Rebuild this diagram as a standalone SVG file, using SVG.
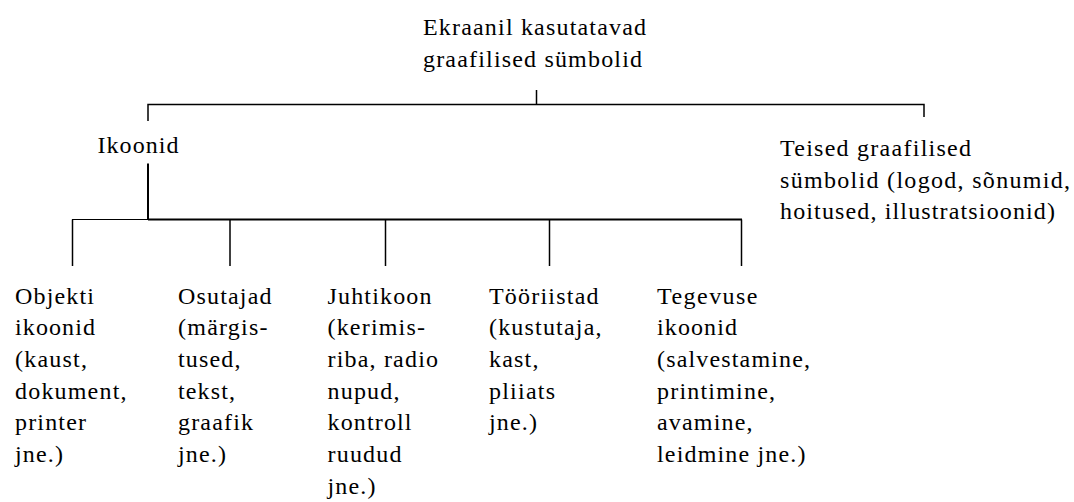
<svg xmlns="http://www.w3.org/2000/svg" width="1074" height="502" viewBox="0 0 1074 502">
<g id="connectors" stroke="#000" stroke-width="1.5" fill="none">
<line x1="536.5" y1="90" x2="536.5" y2="104.5"/>
<polyline points="148,121 148,104.5 924,104.5 924,117"/>
<line x1="148" y1="163.5" x2="148" y2="219.5" stroke-width="2"/>
<line x1="72" y1="219.5" x2="148" y2="219.5" stroke-width="1"/>
<line x1="148" y1="219.5" x2="742" y2="219.5" stroke-width="2"/>
<line x1="72.5" y1="219.5" x2="72.5" y2="266"/>
<line x1="230" y1="219.5" x2="230" y2="266"/>
<line x1="385.5" y1="219.5" x2="385.5" y2="266"/>
<line x1="549.5" y1="219.5" x2="549.5" y2="266"/>
<line x1="741.5" y1="219.5" x2="741.5" y2="266"/>
</g>
<g id="root">
<text x="423" y="34.5" font-family="Liberation Serif" font-size="24" textLength="223" lengthAdjust="spacing">Ekraanil kasutatavad</text>
<text x="423" y="66.5" font-family="Liberation Serif" font-size="24" textLength="219" lengthAdjust="spacing">graafilised sümbolid</text>
</g>
<g id="ikoonid">
<text x="97.5" y="153" font-family="Liberation Serif" font-size="24" textLength="81" lengthAdjust="spacing">Ikoonid</text>
</g>
<g id="teised">
<text x="780" y="156" font-family="Liberation Serif" font-size="24" textLength="191" lengthAdjust="spacing">Teised graafilised</text>
<text x="780" y="187.5" font-family="Liberation Serif" font-size="24" textLength="290" lengthAdjust="spacing">sümbolid (logod, sõnumid,</text>
<text x="780" y="219" font-family="Liberation Serif" font-size="24" textLength="275" lengthAdjust="spacing">hoitused, illustratsioonid)</text>
</g>
<g id="objekti">
<text x="15" y="303.5" font-family="Liberation Serif" font-size="24" textLength="79" lengthAdjust="spacing">Objekti</text>
<text x="15" y="335.2" font-family="Liberation Serif" font-size="24" textLength="80" lengthAdjust="spacing">ikoonid</text>
<text x="15" y="366.9" font-family="Liberation Serif" font-size="24" textLength="72" lengthAdjust="spacing">(kaust,</text>
<text x="15" y="398.6" font-family="Liberation Serif" font-size="24" textLength="111.5" lengthAdjust="spacing">dokument,</text>
<text x="15" y="430.3" font-family="Liberation Serif" font-size="24" textLength="71" lengthAdjust="spacing">printer</text>
<text x="15" y="462" font-family="Liberation Serif" font-size="24" textLength="48" lengthAdjust="spacing">jne.)</text>
</g>
<g id="osutajad">
<text x="178" y="303.5" font-family="Liberation Serif" font-size="24" textLength="93.5" lengthAdjust="spacing">Osutajad</text>
<text x="178" y="335.2" font-family="Liberation Serif" font-size="24" textLength="89.5" lengthAdjust="spacing">(märgis-</text>
<text x="178" y="366.9" font-family="Liberation Serif" font-size="24" textLength="62.5" lengthAdjust="spacing">tused,</text>
<text x="178" y="398.6" font-family="Liberation Serif" font-size="24" textLength="57" lengthAdjust="spacing">tekst,</text>
<text x="178" y="430.3" font-family="Liberation Serif" font-size="24" textLength="75" lengthAdjust="spacing">graafik</text>
<text x="178" y="462" font-family="Liberation Serif" font-size="24" textLength="48" lengthAdjust="spacing">jne.)</text>
</g>
<g id="juhtikoon">
<text x="327.5" y="303.5" font-family="Liberation Serif" font-size="24" textLength="104" lengthAdjust="spacing">Juhtikoon</text>
<text x="327.5" y="335.2" font-family="Liberation Serif" font-size="24" textLength="97.5" lengthAdjust="spacing">(kerimis-</text>
<text x="327.5" y="366.9" font-family="Liberation Serif" font-size="24" textLength="110.5" lengthAdjust="spacing">riba, radio</text>
<text x="327.5" y="398.6" font-family="Liberation Serif" font-size="24" textLength="72" lengthAdjust="spacing">nupud,</text>
<text x="327.5" y="430.3" font-family="Liberation Serif" font-size="24" textLength="84" lengthAdjust="spacing">kontroll</text>
<text x="327.5" y="462" font-family="Liberation Serif" font-size="24" textLength="74" lengthAdjust="spacing">ruudud</text>
<text x="327.5" y="493.7" font-family="Liberation Serif" font-size="24" textLength="48" lengthAdjust="spacing">jne.)</text>
</g>
<g id="tooriistad">
<text x="489" y="303.5" font-family="Liberation Serif" font-size="24" textLength="109.5" lengthAdjust="spacing">Tööriistad</text>
<text x="489" y="335.2" font-family="Liberation Serif" font-size="24" textLength="112.5" lengthAdjust="spacing">(kustutaja,</text>
<text x="489" y="366.9" font-family="Liberation Serif" font-size="24" textLength="49.5" lengthAdjust="spacing">kast,</text>
<text x="489" y="398.6" font-family="Liberation Serif" font-size="24" textLength="66" lengthAdjust="spacing">pliiats</text>
<text x="489" y="430.3" font-family="Liberation Serif" font-size="24" textLength="48" lengthAdjust="spacing">jne.)</text>
</g>
<g id="tegevuse">
<text x="657" y="303.5" font-family="Liberation Serif" font-size="24" textLength="100.5" lengthAdjust="spacing">Tegevuse</text>
<text x="657" y="335.2" font-family="Liberation Serif" font-size="24" textLength="80" lengthAdjust="spacing">ikoonid</text>
<text x="657" y="366.9" font-family="Liberation Serif" font-size="24" textLength="153" lengthAdjust="spacing">(salvestamine,</text>
<text x="657" y="398.6" font-family="Liberation Serif" font-size="24" textLength="118" lengthAdjust="spacing">printimine,</text>
<text x="657" y="430.3" font-family="Liberation Serif" font-size="24" textLength="95.5" lengthAdjust="spacing">avamine,</text>
<text x="657" y="462" font-family="Liberation Serif" font-size="24" textLength="148.5" lengthAdjust="spacing">leidmine jne.)</text>
</g>
</svg>
